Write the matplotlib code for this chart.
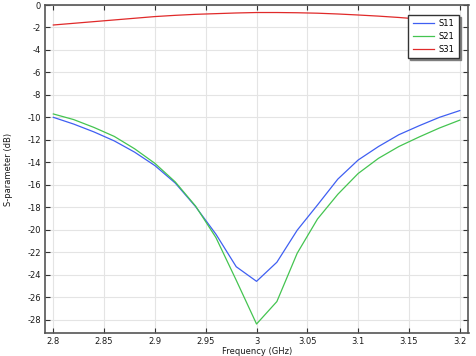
import matplotlib
matplotlib.use("Agg")
import matplotlib.pyplot as plt
import numpy as np

freq = [2.80, 2.82, 2.84, 2.86, 2.88, 2.90, 2.92, 2.94, 2.96, 2.98, 3.00,
        3.02, 3.04, 3.06, 3.08, 3.10, 3.12, 3.14, 3.16, 3.18, 3.20]
s11 = [-10.0, -10.6, -11.3, -12.1, -13.1, -14.3, -15.85, -17.95, -20.4, -23.3, -24.6,
       -22.9, -20.05, -17.8, -15.5, -13.8, -12.6, -11.55, -10.75, -10.0, -9.4]
s21 = [-9.7, -10.2, -10.9, -11.7, -12.8, -14.1, -15.75, -17.9, -20.7, -24.5, -28.4,
       -26.4, -22.1, -19.05, -16.85, -15.0, -13.65, -12.6, -11.75, -10.95, -10.25]
s31 = [-1.78, -1.63, -1.48, -1.33, -1.18, -1.03, -0.92, -0.83, -0.77, -0.71, -0.67,
       -0.67, -0.69, -0.73, -0.80, -0.89, -0.99, -1.11, -1.25, -1.42, -1.60]
labels = ["S11", "S21", "S31"]
xticks = [2.8, 2.85, 2.9, 2.95, 3.0, 3.05, 3.1, 3.15, 3.2]
xticklabels = ["2.8", "2.85", "2.9", "2.95", "3", "3.05", "3.1", "3.15", "3.2"]
yticks = list(range(0, -29, -2))

plt.rcParams['font.family'] = ['DejaVu Sans']
fig = plt.figure(figsize=(4.77, 3.56), dpi=100)
ax = fig.add_axes([45/477, 1 - 333/356, (468.5-45)/477, (333-5)/356])

colors = ['#3f5ff2', '#44c450', '#e02a2a']
for ys, lab, c in zip([s11, s21, s31], labels, colors):
    ax.plot(freq, ys, color=c, lw=0.9, label=lab)

ax.set_xlim(2.7918, 3.2086)
ax.set_ylim(-29.2, 0)
ax.set_xticks(xticks)
ax.set_xticklabels(xticklabels)
ax.set_yticks(yticks)
ax.set_yticklabels([str(t) if t == 0 else "-%d" % (-t) for t in yticks])
ax.grid(True, color='#e4e4e4', lw=0.8)
ax.set_axisbelow(True)
ax.tick_params(direction='in', top=True, right=True, length=3.5, width=0.8,
               labelsize=6.0, colors='#333333', pad=3)
ax.tick_params(labelcolor='#1a1a1a')
for sp in ax.spines.values():
    sp.set_color('#555555')
    sp.set_linewidth(1.2)
ax.set_xlabel("Frequency (GHz)", fontsize=6.0, labelpad=0.5, color='#1a1a1a')
ax.set_ylabel("S-parameter (dB)", fontsize=6.0, labelpad=10, color='#1a1a1a')

leg = ax.legend(loc='upper right', bbox_to_anchor=(459/477, 1 - 14.7/356),
                bbox_transform=fig.transFigure, borderaxespad=0, fontsize=6.0,
                frameon=True, fancybox=False,
                shadow={'ox': 1.3, 'oy': -1.3, 'color': '#777777', 'alpha': 0.9},
                borderpad=0.55, handlelength=2.6, labelspacing=0.45,
                handletextpad=0.5)
leg.get_frame().set_edgecolor('#333333')
leg.get_frame().set_linewidth(1.0)

fig.savefig("out.png", dpi=100)
